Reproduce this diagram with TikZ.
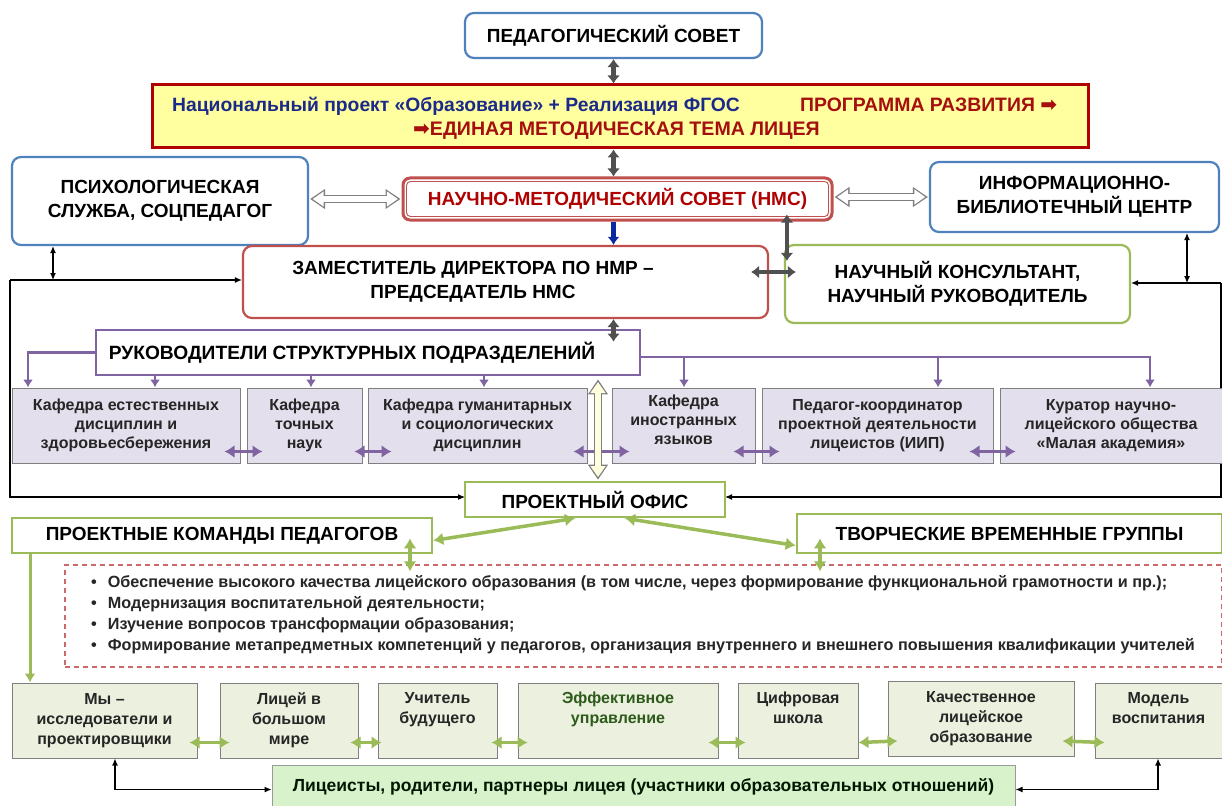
\documentclass[tikz,border=0pt]{standalone}
\usepackage{fontspec}
\setmainfont{Liberation Sans}
\newfontfamily\dv{DejaVu Sans}
\usetikzlibrary{arrows.meta,calc}
\definecolor{cblue}{HTML}{4F81BD}
\definecolor{cred}{HTML}{C0504D}
\definecolor{dred}{HTML}{B00000}
\definecolor{tred}{HTML}{A50F0F}
\definecolor{navy}{HTML}{1B2A8A}
\definecolor{cgreen}{HTML}{9BBB59}
\definecolor{cpur}{HTML}{8064A2}
\definecolor{lav}{HTML}{E4DFEC}
\definecolor{lgreen}{HTML}{EBF1DE}
\definecolor{bgreen}{HTML}{D8F2CC}
\definecolor{cgray}{HTML}{7F7F7F}
\definecolor{agray}{HTML}{505050}
\definecolor{ylw}{HTML}{FFFF9F}
\definecolor{dgreen}{HTML}{2E5A1C}
\definecolor{cblue2}{HTML}{0A28A0}
\begin{document}
\begin{tikzpicture}[x=1pt,y=-1pt,
  title/.style={font=\fontsize{19}{24}\selectfont\bfseries},
  rbox/.style={draw, rounded corners=9pt, line width=2.2pt, fill=white, inner sep=0pt, align=center, title},
  bbox/.style={rbox, draw=cblue},
  redbox/.style={rbox, draw=cred},
  gbox/.style={rbox, draw=cgreen},
  sbox/.style={draw=cgreen, line width=2.6pt, fill=white, inner sep=0pt, align=center, title},
  kbox/.style={draw=cgray, line width=1pt, fill=lav, inner sep=0pt, align=center, font=\fontsize{16}{19}\selectfont\bfseries, text=black!85},
  mbox/.style={draw=cgray, line width=1pt, fill=lgreen, inner sep=0pt, align=center, font=\fontsize{16}{20}\selectfont\bfseries, text=black!85},
  gar/.style={draw=agray, line width=4.5pt, {Latex[length=8pt,width=13pt]}-{Latex[length=8pt,width=13pt]}},
  hollow/.style={draw=cgray, line width=8.5pt, {Triangle[length=15pt,width=19pt]}-{Triangle[length=15pt,width=19pt]},
    postaction={draw=#1, line width=6pt, shorten >=2.6pt, shorten <=2.6pt, {Triangle[length=11pt,width=14.5pt]}-{Triangle[length=11pt,width=14.5pt]}}},
  blk/.style={draw=black, line width=1.1pt},
  blkt/.style={-{Latex[length=7pt,width=6pt]}},
  blk2/.style={{Latex[length=7pt,width=6pt]}-{Latex[length=7pt,width=6pt]}},
  pur/.style={draw=cpur, line width=2.6pt},
  purt/.style={-{Latex[length=8pt,width=10pt]}},
  pur2/.style={draw=cpur, line width=3.5pt, {Latex[length=10pt,width=13pt]}-{Latex[length=10pt,width=13pt]}},
  grn/.style={draw=cgreen, line width=3pt},
  grnt/.style={-{Latex[length=9pt,width=11pt]}},
  grn2/.style={draw=cgreen, line width=3.5pt, {Latex[length=10pt,width=13pt]}-{Latex[length=10pt,width=13pt]}}
]
\useasboundingbox (0,0) rectangle (1222,805);
\clip (0,0) rectangle (1222,805);
\fill[white] (0,0) rectangle (1222,805);

\coordinate (L1) at (53,280);
\coordinate (LC) at (10,280);
\coordinate (LB) at (10,497);
\coordinate (R1) at (1187,283);
\coordinate (RC) at (1221,283);
\coordinate (RB) at (1221,497);

% top
\node[bbox, minimum width=297pt, minimum height=45pt] (ped) at (613.5,35.5) {ПЕДАГОГИЧЕСКИЙ СОВЕТ};
\node[draw=dred, line width=3pt, fill=ylw, minimum width=936pt, minimum height=63pt, inner sep=0pt] (ylwbox) at (620,116.5) {};
\node[anchor=base west, inner sep=0pt, text=navy, font=\fontsize{19.3}{20}\selectfont\bfseries] (nat) at (172,112) {Национальный проект «Образование» + Реализация ФГОС};
\node[anchor=base west, inner sep=0pt, text=tred, font=\fontsize{19.4}{20}\selectfont\bfseries] (prog) at (800,112) {ПРОГРАММА РАЗВИТИЯ {\dv\fontsize{20}{20}\selectfont ➡}};
\node[anchor=base west, inner sep=0pt, text=tred, font=\fontsize{19.6}{20}\selectfont\bfseries] (tema) at (413,136) {{\dv\fontsize{20}{20}\selectfont ➡}ЕДИНАЯ МЕТОДИЧЕСКАЯ ТЕМА ЛИЦЕЯ};

\node[bbox, minimum width=296pt, minimum height=88pt] (psych) at (160,201) {ПСИХОЛОГИЧЕСКАЯ\\СЛУЖБА, СОЦПЕДАГОГ};
\node[draw=cred, line width=3pt, rounded corners=7pt, fill=white, minimum width=429pt, minimum height=42pt, inner sep=0pt] (nms) at (617.5,199) {};
\draw[cred, line width=0.9pt, rounded corners=4pt] ($(nms.north west)+(5,5)$) rectangle ($(nms.south east)+(-5,-5)$);
\node[text=dred, font=\fontsize{19}{22}\selectfont\bfseries] (nmst) at (617.5,199) {НАУЧНО-МЕТОДИЧЕСКИЙ СОВЕТ (НМС)};
\node[bbox, minimum width=289pt, minimum height=70pt] (info) at (1074.5,197) {ИНФОРМАЦИОННО-\\БИБЛИОТЕЧНЫЙ ЦЕНТР};

\node[redbox, minimum width=525pt, minimum height=72pt] (zam) at (505.5,282) {};
\node[title, align=center] (zamt) at (473,282) {ЗАМЕСТИТЕЛЬ ДИРЕКТОРА ПО НМР –\\ПРЕДСЕДАТЕЛЬ НМС};
\node[gbox, minimum width=345pt, minimum height=78pt] (nauch) at (957.5,284) {НАУЧНЫЙ КОНСУЛЬТАНТ,\\НАУЧНЫЙ РУКОВОДИТЕЛЬ};

% black loops
\draw[blk, blkt] (LC) -- (LC -| zam.west);
\draw[blk, blkt] (LC) -- (LB) -- (LB -| 465,0);
\draw[blk, blkt] (RC) -- (RC -| nauch.east);
\draw[blk, blkt] (RC) -- (RB) -- (RB -| 725,0);
\draw[blk, blk2] (psych.south -| L1) -- (L1);
\draw[blk, blk2] (info.south -| R1) -- (R1);

% Ruk
\node[draw=cpur, line width=2.8pt, fill=white, minimum width=544pt, minimum height=45pt, inner sep=0pt] (ruk) at (368,352.5) {};
\node[font=\fontsize{19.2}{24}\selectfont\bfseries] (rukt) at (352,352.5) {РУКОВОДИТЕЛИ СТРУКТУРНЫХ ПОДРАЗДЕЛЕНИЙ};

% kafedras
\node[kbox, minimum width=228pt, minimum height=75pt] (k1) at (126,425.5) {Кафедра естественных\\дисциплин и\\здоровьесбережения};
\node[kbox, minimum width=115pt, minimum height=75pt] (k2) at (304.5,425.5) {Кафедра\\точных\\наук};
\node[kbox, minimum width=219pt, minimum height=75pt] (k3) at (477.5,425.5) {Кафедра гуманитарных\\и социологических\\дисциплин};
\node[kbox, minimum width=143pt, minimum height=75pt] (k4) at (683.5,425.5) {Кафедра\\иностранных\\языков\\[-14pt]\strut};
\node[kbox, minimum width=231pt, minimum height=75pt] (k5) at (877.5,425.5) {Педагог-координатор\\проектной деятельности\\лицеистов (ИИП)};
\node[kbox, minimum width=222pt, minimum height=75pt] (k6) at (1111,425.5) {Куратор научно-\\лицейского общества\\«Малая академия»};

% purple connectors
\coordinate (PR) at (1150,357);
\draw[pur, purt] (ruk.west) -| (k1.north -| 28,0);
\foreach \xx/\kk in {155/k1, 311/k2, 484/k3} \draw[pur, purt] (ruk.south -| \xx,0) -- (\kk.north -| \xx,0);
\draw[pur, purt] (PR -| ruk.east) -| (k6.north -| PR);
\foreach \xx/\kk in {684/k4, 938/k5} \draw[pur, purt] (PR -| \xx,0) -- (\kk.north -| \xx,0);
\draw[pur2] ($(k1.east)+(-16,26)$) -- ($(k2.west)+(16,26)$);
\draw[pur2] ($(k2.east)+(-8,26)$) -- ($(k3.west)+(24,26)$);
\draw[pur2] ($(k3.east)+(-14,26)$) -- ($(k4.west)+(18,26)$);
\draw[pur2] ($(k4.east)+(-22,26)$) -- ($(k5.west)+(18,26)$);
\draw[pur2] ($(k5.east)+(-24,26)$) -- ($(k6.west)+(16,26)$);

% project office etc
\node[sbox, minimum width=260pt, minimum height=35pt] (po) at (595,499.5) {ПРОЕКТНЫЙ ОФИС};
\node[sbox, minimum width=420pt, minimum height=35pt] (pkp) at (222,535.5) {ПРОЕКТНЫЕ КОМАНДЫ ПЕДАГОГОВ};
\node[sbox, minimum width=425pt, minimum height=39pt] (tvg) at (1009.5,533.5) {ТВОРЧЕСКИЕ ВРЕМЕННЫЕ ГРУППЫ};

% gray arrows
\draw[gar] (ped.south) -- (ped.south |- ylwbox.north);
\draw[gar] (ylwbox.south -| ped.south) -- (nms.north -| ped.south);
\draw[draw=cblue2, line width=4.5pt, -{Latex[length=8pt,width=12pt]}] (nms.south -| ped.south) -- (zam.north -| ped.south);
\draw[gar] ($(nms.south -| nauch.west)+(3,-7)$) -- ($(nauch.north west)+(3,17)$);
\draw[gar] ($(zam.east)+(-18,-10)$) -- ($(nauch.west |- zam.east)+(12,-10)$);
\draw[gar] (zam.south -| ped.south) -- ($(ruk.north -| ped.south)+(0,13)$);

% hollow arrows
\draw[hollow=white] ($(psych.east |- nms.west)+(1,0)$) -- ($(nms.west)+(-1,0)$);
\draw[hollow=white] ($(nms.east)+(1,-2)$) -- ($(nms.east -| info.west)+(-1,-2)$);
\draw[hollow=ylw!35] ($(ruk.south -| 598,0)+(0,3)$) -- ($(po.north -| 598,0)+(0,-1)$);

% goals
\node[draw=cred!85, dashed, dash pattern=on 5pt off 4pt, line width=1.3pt, minimum width=1157pt, minimum height=102pt, inner sep=0pt] (goals) at (643.5,616) {};
\node[anchor=north west, inner sep=0pt, align=left, font=\fontsize{16.2}{21}\selectfont\bfseries, text=black!85] (goalst) at (91,575) {%
•\hspace{11pt}Обеспечение высокого качества лицейского образования (в том числе, через формирование функциональной грамотности и пр.);\\
•\hspace{11pt}Модернизация воспитательной деятельности;\\
•\hspace{11pt}Изучение вопросов трансформации образования;\\
•\hspace{11pt}Формирование метапредметных компетенций у педагогов, организация внутреннего и внешнего повышения квалификации учителей};

% green connectors
\draw[grn2] ($(po.south)+(-20,0)$) -- ($(pkp.east)+(0,5)$);
\draw[grn2] ($(po.south)+(30,0)$) -- ($(tvg.west)+(0,12)$);
\draw[grn2] ($(pkp.south -| 410,0)+(0,-16)$) -- ($(goals.north -| 410,0)+(0,7)$);
\draw[grn2] ($(tvg.south -| 820,0)+(0,-16)$) -- ($(goals.north -| 820,0)+(0,7)$);

% bottom boxes
\node[mbox, minimum width=185pt, minimum height=75pt] (b1) at (104.5,720.5) {Мы –\\исследователи и\\проектировщики};
\node[mbox, minimum width=138pt, minimum height=75pt] (b2) at (289,720.5) {Лицей в\\большом\\мире};
\node[mbox, minimum width=119pt, minimum height=75pt] (b3) at (437.5,720.5) {Учитель\\будущего\\\strut};
\node[mbox, minimum width=200pt, minimum height=75pt, text=dgreen] (b4) at (618,720.5) {Эффективное\\управление\\\strut};
\node[mbox, minimum width=120pt, minimum height=75pt] (b5) at (798,720.5) {Цифровая\\школа\\\strut};
\node[mbox, minimum width=186pt, minimum height=75pt] (b6) at (981,719) {Качественное\\лицейское\\образование};
\node[mbox, minimum width=127pt, minimum height=75pt] (b7) at (1158.5,720.5) {Модель\\воспитания\\\strut};
\draw[grn2] ($(b1.east)+(-8,22)$) -- ($(b2.west)+(10,22)$);
\draw[grn2] ($(b2.east)+(-8,22)$) -- ($(b3.west)+(4,22)$);
\draw[grn2] ($(b3.east)+(-6,22)$) -- ($(b4.west)+(10,22)$);
\draw[grn2] ($(b4.east)+(-10,22)$) -- ($(b5.west)+(8,22)$);
\draw[grn2] ($(b5.east)+(0,22)$) -- ($(b6.west)+(10,22)$);
\draw[grn2] ($(b6.east)+(-12,22)$) -- ($(b7.west)+(10,22)$);
\draw[grn, grnt] (pkp.south -| 30,0) -- (b1.north -| 30,0);

\node[draw=cgray!80, line width=1pt, fill=bgreen, minimum width=743pt, minimum height=43pt, inner sep=0pt, text=black!85!green!60!black, font=\fontsize{17.5}{20}\selectfont\bfseries] (bot) at (643.5,786.5) {Лицеисты, родители, партнеры лицея (участники образовательных отношений)};
\draw[blk, blk2] (b1.south -| 115,0) |- ($(bot.west)+(0,3)$);
\draw[blk, blk2] (b7.south -| 1158,0) |- ($(bot.east)+(0,3)$);
\end{tikzpicture}
\end{document}
